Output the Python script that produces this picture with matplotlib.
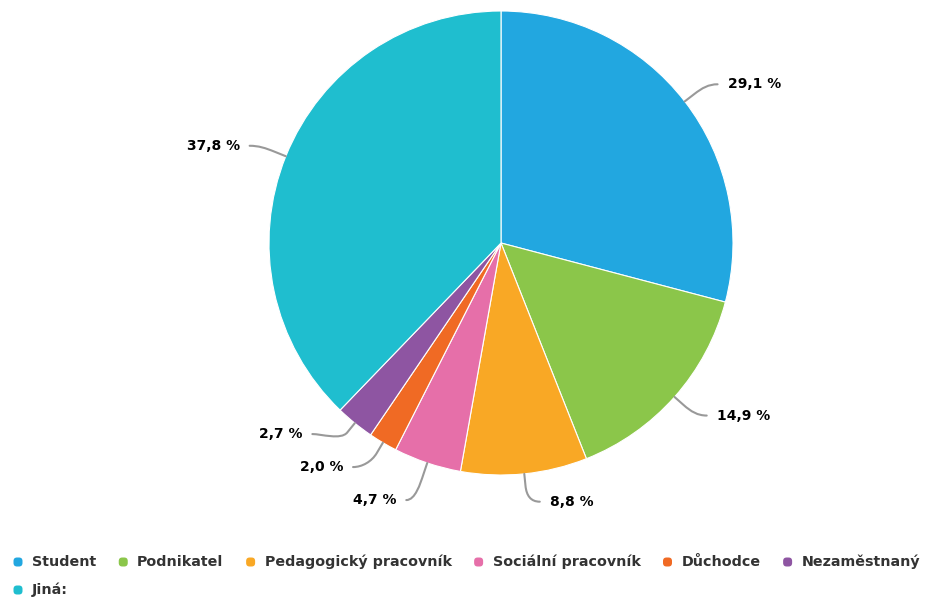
import numpy as np
import matplotlib
matplotlib.use('Agg')
import matplotlib.pyplot as plt
from matplotlib.path import Path
from matplotlib.patches import PathPatch, FancyBboxPatch

categories = ['Student', 'Podnikatel', 'Pedagogický pracovník', 'Sociální pracovník',
              'Důchodce', 'Nezaměstnaný', 'Jiná:']
values = [29.1, 14.9, 8.8, 4.7, 2.0, 2.7, 37.8]
value_labels = ['29,1 %', '14,9 %', '8,8 %', '4,7 %', '2,0 %', '2,7 %', '37,8 %']
colors = ['#22a7e0', '#8bc64a', '#f9a825', '#e66fa9', '#f06a24', '#8e55a2', '#1fbecf']

W, H = 929, 604
fig = plt.figure(figsize=(W / 100, H / 100), dpi=100)
ax = fig.add_axes([0, 0, 1, 1])

cx, cy, r = 501, 361, 232
ax.pie(values, colors=colors, startangle=90, counterclock=False, center=(cx, cy),
       radius=r, frame=True, wedgeprops=dict(edgecolor='white', linewidth=0.8))
ax.set_xlim(0, W)
ax.set_ylim(0, H)
ax.set_aspect('equal')
ax.axis('off')

# ---- data labels with soft connectors (Highcharts-like layout) ----
total = sum(values)
cum = np.cumsum([0] + values[:-1])
mids = np.radians(90 - 360 * (cum + np.array(values) / 2) / total)
label_r = r + 28
circle_R = 268.5
min_gap = 33

nat_y = cy + label_r * np.sin(mids)
left = np.cos(mids) < 0
final_y = nat_y.copy()
for side in (True, False):
    idx = [i for i in range(len(values)) if left[i] == side]
    idx.sort(key=lambda i: -nat_y[i])
    clusters = [[i] for i in idx]
    changed = True
    while changed:
        changed = False
        pos = []
        for c in clusters:
            m = np.mean([nat_y[i] for i in c])
            n = len(c)
            pos.append([m + min_gap * ((n - 1) / 2 - k) for k in range(n)])
        for j in range(len(clusters) - 1):
            if pos[j][-1] - pos[j + 1][0] < min_gap:
                clusters[j] = clusters[j] + clusters[j + 1]
                del clusters[j + 1]
                changed = True
                break
    for c in clusters:
        m = np.mean([nat_y[i] for i in c])
        n = len(c)
        for k, i in enumerate(c):
            final_y[i] = m + min_gap * ((n - 1) / 2 - k)

for i, lab in enumerate(value_labels):
    a = mids[i]
    sgn = -1 if left[i] else 1
    u = np.array([np.cos(a), np.sin(a)])
    edge = np.array([cx, cy]) + r * u
    brk25 = np.array([cx, cy]) + (r + 25) * u
    y = final_y[i]
    ax_x = brk25[0] + sgn * 13
    dy = y - cy
    if abs(dy) < 0.9 * circle_R:
        cx_circ = cx + sgn * np.sqrt(circle_R ** 2 - dy ** 2)
        if sgn * cx_circ > sgn * ax_x:
            ax_x = cx_circ
    anchor = np.array([ax_x, y])
    brk = np.array([cx, cy]) + (r + 12) * u
    c1 = np.array([cx, cy]) + (r + 22) * u
    c2 = anchor - np.array([sgn * 9, 0])
    path = Path([edge, brk, c1, c2, anchor],
                [Path.MOVETO, Path.LINETO, Path.CURVE4, Path.CURVE4, Path.CURVE4])
    ax.add_patch(PathPatch(path, facecolor='none', edgecolor='#999999', lw=1.5,
                           capstyle='round', joinstyle='round'))
    ax.text(ax_x + sgn * 10, y, lab, ha='right' if left[i] else 'left', va='center',
            fontsize=10, fontweight='bold', color='#000000')

# ---- legend ----
renderer = fig.canvas.get_renderer()
x = 18
row_y = H - 562
max_x = W - 3
for i, name in enumerate(categories):
    t = ax.text(x + 14, row_y, name, ha='left', va='center', fontsize=10.3,
                fontweight='bold', color='#333333')
    bb = t.get_window_extent(renderer)
    if bb.x1 > max_x and x > 18:
        x = 18
        row_y -= 28
        t.set_position((x + 14, row_y))
        bb = t.get_window_extent(renderer)
    ax.add_patch(FancyBboxPatch((x - 4.5, row_y - 4.5), 9, 9,
                                boxstyle='round,pad=0,rounding_size=3.5',
                                facecolor=colors[i], edgecolor='none'))
    x = bb.x1 + 27

fig.savefig('out.png', dpi=100)
